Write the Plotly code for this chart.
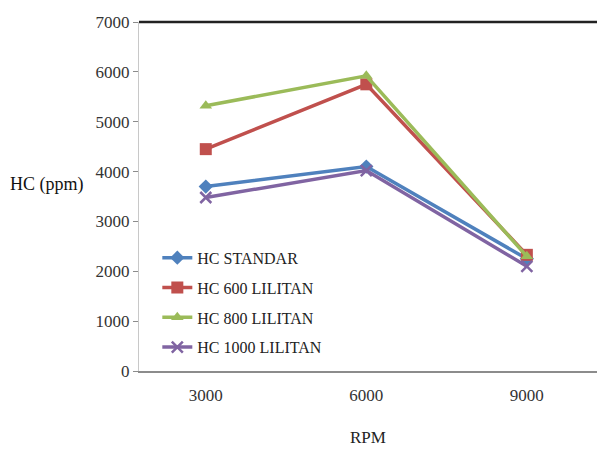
import plotly.graph_objects as go

rpm = ["3000", "6000", "9000"]
hc_standar = [3700, 4100, 2250]
hc_600 = [4450, 5750, 2330]
hc_800 = [5320, 5920, 2300]
hc_1000 = [3480, 4020, 2100]

names = ["HC STANDAR", "HC 600 LILITAN", "HC 800 LILITAN", "HC 1000 LILITAN"]
colors = ["#4F81BD", "#C0504D", "#9BBB59", "#8064A2"]
symbols = ["diamond", "square", "triangle-up", "x-thin"]
series = [hc_standar, hc_600, hc_800, hc_1000]

fig = go.Figure()
for i, (nm, col, sym, ys) in enumerate(zip(names, colors, symbols, series)):
    fig.add_trace(go.Scatter(
        x=rpm, y=ys, name=nm, mode="lines+markers",
        legendgroup=str(i),
        line=dict(color=col, width=3.5),
        marker=dict(symbol=sym, size=11 if sym != "square" else 12, color=col,
                    line=dict(color=col, width=2.5 if sym == "x-thin" else 0)),
    ))

serif = "Liberation Serif"
fig.update_layout(
    width=597, height=452,
    margin=dict(l=139, r=0, t=22, b=81),
    paper_bgcolor="white", plot_bgcolor="white",
    font=dict(family=serif, size=16, color="#222222"),
    showlegend=True,
    legend=dict(x=0.04, y=0.373, xanchor="left", yanchor="top",
                bgcolor="rgba(0,0,0,0)", font=dict(family=serif, size=16, color="#222222"),
                tracegroupgap=6, traceorder="grouped"),
    xaxis=dict(type="category", range=[-0.416, 2.437], showgrid=False,
               showline=True, linecolor="#8c8c8c", linewidth=1.5, ticks="",
               tickfont=dict(family=serif, size=17, color="#333333"),
               ticklabelstandoff=8,
               title=dict(text="RPM", font=dict(family=serif, size=17, color="#222222"), standoff=27),
               zeroline=False),
    yaxis=dict(range=[0, 7000], dtick=1000, showgrid=False, showline=True,
               linecolor="#c8c8c8", linewidth=1, ticks="outside", ticklen=5,
               tickcolor="#8c8c8c",
               tickfont=dict(family=serif, size=17, color="#333333"),
               zeroline=False),
    shapes=[dict(type="line", xref="paper", yref="paper", x0=0, x1=1, y0=1, y1=1,
                 line=dict(color="#222222", width=2.5))],
    annotations=[dict(text="HC (ppm)", xref="paper", yref="paper", x=-0.287, y=0.535,
                      xanchor="left", yanchor="middle", showarrow=False,
                      font=dict(family=serif, size=18, color="#111111"))],
)

fig.write_html("out.html", config={"displayModeBar": False},
               post_script="document.body.style.margin='0';document.body.style.overflow='hidden';")
